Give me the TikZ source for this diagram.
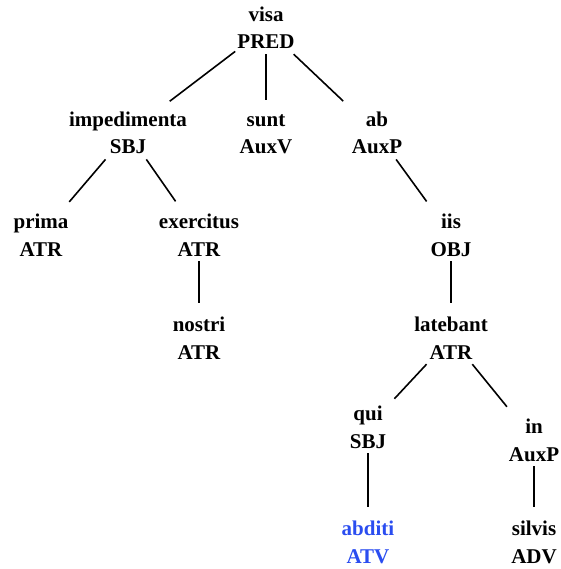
\documentclass[tikz,border=0pt]{standalone}
\usepackage{fontspec}
\setmainfont{Liberation Serif}
\definecolor{tagblue}{HTML}{2A4DF0}

\begin{document}
\begin{tikzpicture}[x=1pt, y=-1pt,
      tok/.style={align=center, anchor=base, inner xsep=2pt, inner ysep=5pt,
        font=\bfseries\fontsize{21}{27.5}\selectfont},
      dep/.style={line width=1.6pt, shorten >=9pt}
    ]
      \useasboundingbox (0,0) rectangle (560,569);
      % level 0
      \node[tok] (visa) at (266,49) {visa\\PRED};
      % level 1
      \node[tok] (impedimenta) at (128,154) {impedimenta\\SBJ};
      \node[tok] (sunt) at (266,154) {sunt\\AuxV};
      \node[tok] (ab) at (377,154) {ab\\AuxP};
      % level 2
      \node[tok] (prima) at (41,256) {prima\\ATR};
      \node[tok] (exercitus) at (199,256) {exercitus\\ATR};
      \node[tok] (iis) at (451,256) {iis\\OBJ};
      % level 3
      \node[tok] (nostri) at (199,359) {nostri\\ATR};
      \node[tok] (latebant) at (451,359) {latebant\\ATR};
      % level 4
      \node[tok] (qui) at (368,448) {qui\\SBJ};
      \node[tok] (in) at (534,461) {in\\AuxP};
      % level 5
      \node[tok, text=tagblue] (abditi) at (368,563) {abditi\\ATV};
      \node[tok] (silvis) at (534,563) {silvis\\ADV};
      \draw[dep] (visa) -- (impedimenta);
      \draw[dep] (visa) -- (sunt);
      \draw[dep] (visa) -- (ab);
      \draw[dep] (impedimenta) -- (prima);
      \draw[dep] (impedimenta) -- (exercitus);
      \draw[dep] (exercitus) -- (nostri);
      \draw[dep] (ab) -- (iis);
      \draw[dep] (iis) -- (latebant);
      \draw[dep] (latebant) -- (qui);
      \draw[dep] (latebant) -- (in);
      \draw[dep] (qui) -- (abditi);
      \draw[dep] (in) -- (silvis);
    \end{tikzpicture}
\end{document}
